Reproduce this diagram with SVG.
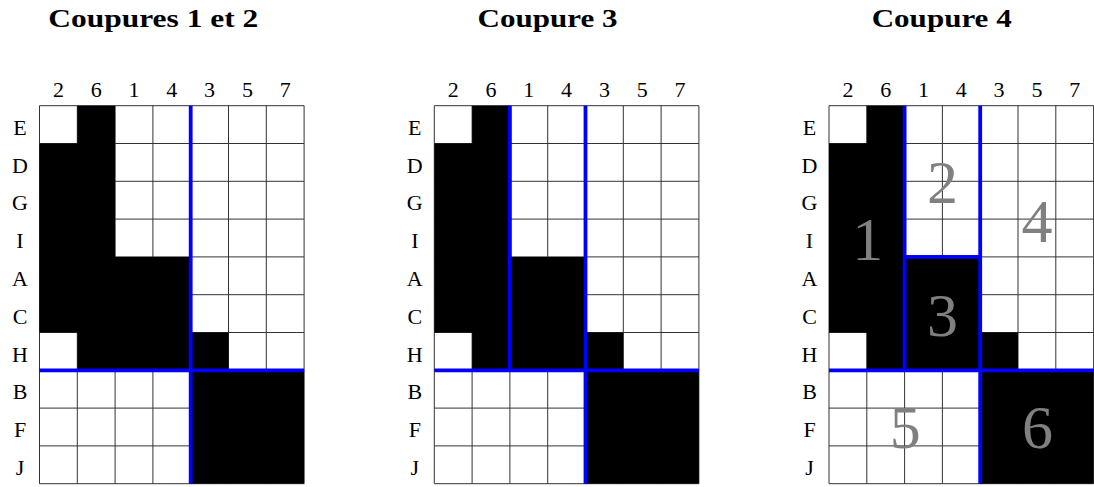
<svg xmlns="http://www.w3.org/2000/svg" xmlns:xlink="http://www.w3.org/1999/xlink" width="1094" height="487" viewBox="0 0 1094 487">
  <style>
    .title { font-family: "Liberation Serif", "DejaVu Serif", serif; font-weight: bold; font-size: 26px; text-anchor: middle; fill: #000; }
    .lbl { font-family: "Liberation Serif", "DejaVu Serif", serif; font-size: 22px; text-anchor: middle; fill: #000; }
    .num { font-family: "Liberation Serif", "DejaVu Serif", serif; font-size: 62px; text-anchor: middle; fill: #808080; }
    .gl { stroke: #333; stroke-width: 1; fill: none; }
    .cut { stroke: #0000ff; stroke-width: 3.8; fill: none; }
  </style>
  <defs>
    <g id="base">
      <rect x="0" y="0" width="264.6" height="378" fill="#fff"/>
      <path class="gl" d="M0 0V378M37.8 0V378M75.6 0V378M113.4 0V378M151.2 0V378M189 0V378M226.8 0V378M264.6 0V378
        M0 0H264.6M0 37.8H264.6M0 75.6H264.6M0 113.4H264.6M0 151.2H264.6M0 189H264.6M0 226.8H264.6M0 264.6H264.6M0 302.4H264.6M0 340.2H264.6M0 378H264.6"/>
      <path fill="#000" d="M37.8 0H75.6V151.2H151.2V226.8H189V264.6H37.8V226.8H0V37.8H37.8Z"/>
      <rect x="151.2" y="264.6" width="113.4" height="113.4" fill="#000"/>
      <g class="lbl">
        <text x="18.9" y="-9">2</text>
        <text x="56.7" y="-9">6</text>
        <text x="94.5" y="-9">1</text>
        <text x="132.3" y="-9">4</text>
        <text x="170.1" y="-9">3</text>
        <text x="207.9" y="-9">5</text>
        <text x="245.7" y="-9">7</text>
        <text x="-19.5" y="29.2">E</text>
        <text x="-19.5" y="67">D</text>
        <text x="-19.5" y="104.8">G</text>
        <text x="-19.5" y="142.6">I</text>
        <text x="-19.5" y="180.4">A</text>
        <text x="-19.5" y="218.2">C</text>
        <text x="-19.5" y="256">H</text>
        <text x="-19.5" y="293.8">B</text>
        <text x="-19.5" y="331.6">F</text>
        <text x="-19.5" y="369.4">J</text>
      </g>
    </g>
  </defs>
  <rect x="0" y="0" width="1094" height="487" fill="#fff"/>

  <g id="grid1" transform="translate(39.5,105.7)">
    <text class="title" x="113.8" y="-79" textLength="210" lengthAdjust="spacingAndGlyphs">Coupures 1 et 2</text>
    <use xlink:href="#base"/>
    <path class="cut" d="M151.2 0V378M0 264.6H264.6"/>
  </g>

  <g id="grid2" transform="translate(434.3,105.7)">
    <text class="title" x="113.2" y="-79" textLength="140" lengthAdjust="spacingAndGlyphs">Coupure 3</text>
    <use xlink:href="#base"/>
    <path class="cut" d="M75.6 0V264.6M151.2 0V378M0 264.6H264.6"/>
  </g>

  <g id="grid3" transform="translate(829,105.7)">
    <text class="title" x="112.7" y="-79" textLength="140" lengthAdjust="spacingAndGlyphs">Coupure 4</text>
    <use xlink:href="#base"/>
    <path class="cut" d="M75.6 0V264.6M151.2 0V378M75.6 151.2H151.2M0 264.6H264.6"/>
    <g class="num">
      <text x="38.7" y="154.3">1</text>
      <text x="113.4" y="97.3">2</text>
      <text x="113.4" y="230.3">3</text>
      <text x="208" y="136">4</text>
      <text x="76.3" y="342.6">5</text>
      <text x="208.5" y="342.6">6</text>
    </g>
  </g>
</svg>
